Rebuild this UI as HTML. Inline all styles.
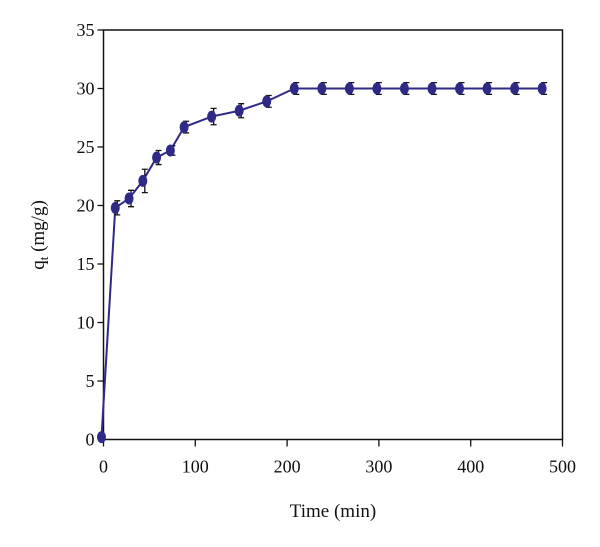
<!DOCTYPE html>
<html><head><meta charset="utf-8"><style>
html,body{margin:0;padding:0;background:#fff;}
svg text{font-family:"Liberation Serif",serif;fill:#111;}
</style></head><body>
<svg width="600" height="542" viewBox="0 0 600 542">
<g id="axes"></g>
<g id="series"></g>
<text x="333" y="517" font-size="19" text-anchor="middle">Time (min)</text>
<text transform="translate(44,235) rotate(-90)" font-size="19" text-anchor="middle">q<tspan font-size="13" dy="4">t</tspan><tspan dy="-4"> (mg/g)</tspan></text>
</svg>
<script>
const times=[0,15,30,45,60,75,90,120,150,180,210,240,270,300,330,360,390,420,450,480];
const qt=[0.2,19.8,20.6,22.1,24.1,24.7,26.7,27.6,28.1,28.9,30,30,30,30,30,30,30,30,30,30];
const errs=[0,0.6,0.7,1.0,0.6,0.4,0.5,0.7,0.6,0.5,0.5,0.5,0.5,0.5,0.5,0.5,0.5,0.5,0.5,0.5];
const xTicks=[0,100,200,300,400,500];
const yTicks=[0,5,10,15,20,25,30,35];
const NS="http://www.w3.org/2000/svg";
const X0=103.5,X1=562.5,Y0=439.5,Y1=30;
const xs=v=>X0+(X1-X0)*v/500;
const ys=v=>Y0-(Y0-Y1)*v/35;
function mk(tag,attrs,parent,txt){const e=document.createElementNS(NS,tag);for(const k in attrs)e.setAttribute(k,attrs[k]);if(txt!==undefined)e.textContent=txt;parent.appendChild(e);return e;}
const ax=document.getElementById('axes');
let f=mk('rect',{x:X0,y:Y1,width:X1-X0,height:Y0-Y1,fill:'none',stroke:'#111','stroke-width':1.5},ax);


xTicks.forEach(t=>{
 let l=mk('line',{x1:xs(t),x2:xs(t),y1:Y0,y2:Y0+7,stroke:'#111','stroke-width':1.3},ax);
 
 
 let tx=mk('text',{x:xs(t),y:Y0+33,'font-size':18,'text-anchor':'middle'},ax,t);
 
 
});
yTicks.forEach(t=>{
 let l=mk('line',{x1:X0-6,x2:X0,y1:ys(t),y2:ys(t),stroke:'#111','stroke-width':1.3},ax);
 
 
 let tx=mk('text',{x:X0-9,y:ys(t)+6,'font-size':18,'text-anchor':'end'},ax,t);
 
 
});
const sg=document.getElementById('series');
const off=-2;
let pts=times.map((t,i)=>(xs(t)+off)+','+ys(qt[i])).join(' ');
let pl=mk('polyline',{points:pts,fill:'none',stroke:'#2e2a86','stroke-width':2},sg);


times.forEach((t,i)=>{
 const x=xs(t)+off+2;
 if(errs[i]>0){
  const a=ys(qt[i]+errs[i]),b=ys(qt[i]-errs[i]);
  let e=mk('path',{d:`M${x},${a}V${b}M${x-3},${a}H${x+3}M${x-3},${b}H${x+3}`,stroke:'#111','stroke-width':1.3,fill:'none'},sg);
  
  
 }
 let c=mk('ellipse',{cx:xs(t)+off,cy:ys(qt[i]),rx:4.5,ry:6,fill:'#2e2a86'},sg);
 
 
});
</script>
</body></html>
